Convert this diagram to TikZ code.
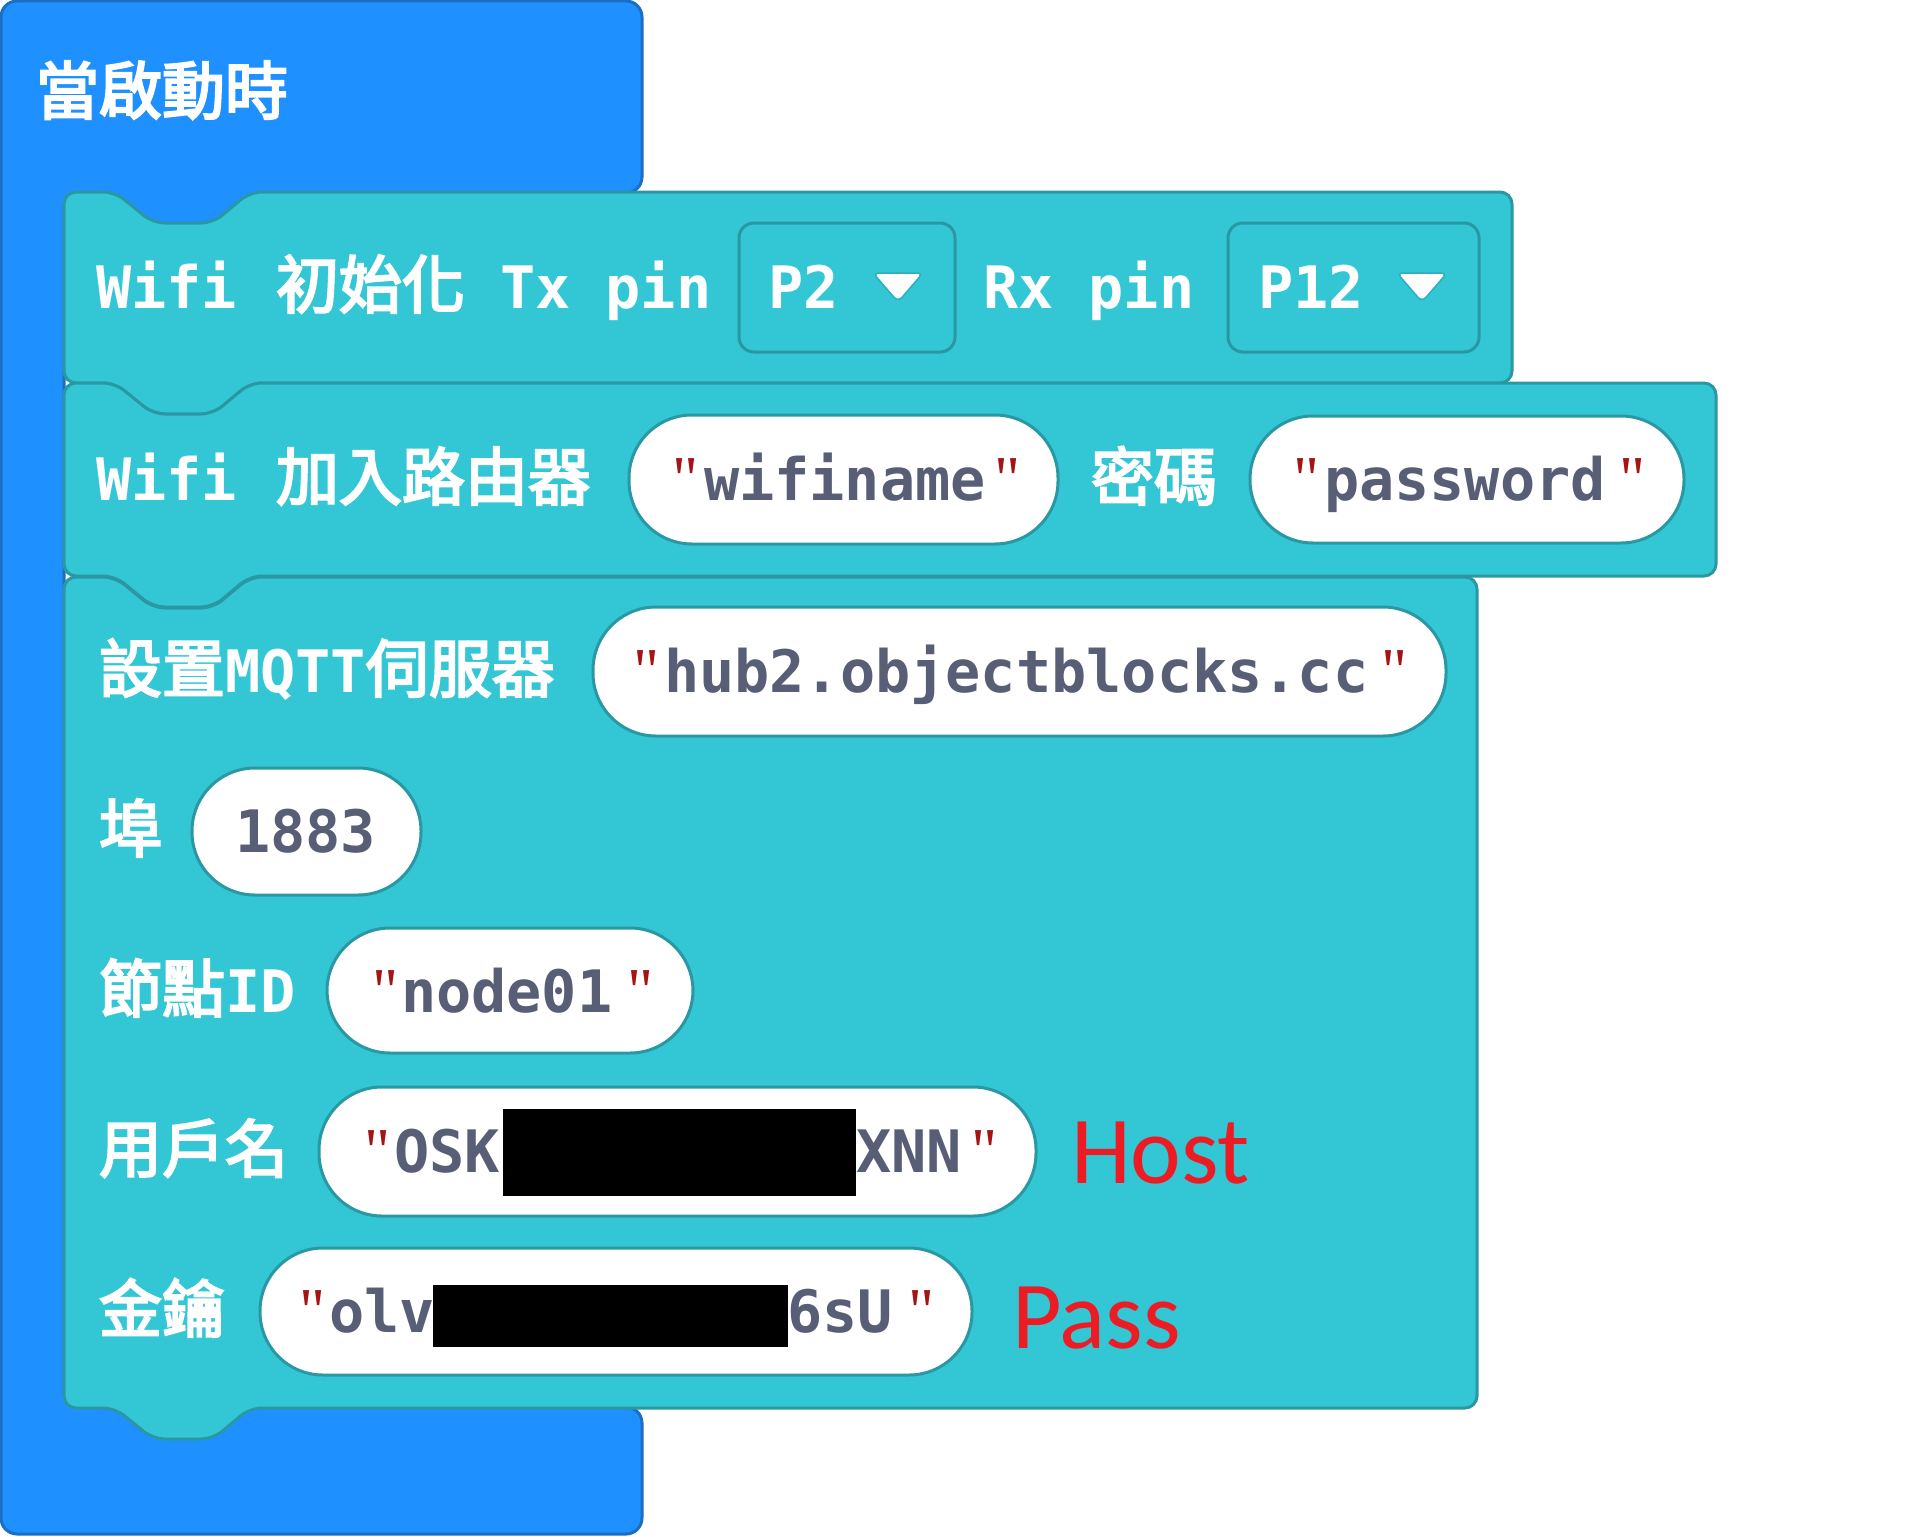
\documentclass[tikz,border=0pt]{standalone}
\usepackage{fontspec}
\newfontfamily\cjkf{Noto Sans CJK TC}[FakeBold=3.5]
\newfontfamily\monof{DejaVu Sans Mono}
\newfontfamily\quotef{Liberation Serif}
\newfontfamily\notef{Carlito}
\definecolor{blueF}{HTML}{1E90FF}
\definecolor{blueB}{HTML}{1B6EC2}
\definecolor{cyanF}{HTML}{33C6D4}
\definecolor{cyanB}{HTML}{2A98A3}
\definecolor{txtgrey}{HTML}{575E75}
\definecolor{qred}{HTML}{A31515}
\definecolor{noteRed}{HTML}{ED1C24}
\definecolor{arrowB}{HTML}{2AB0BC}
\newcommand\cjtext[1]{{\cjkf\mdseries\fontsize{63}{70}\selectfont #1}}
\newcommand\mkblock[4]{%
  \draw[blockst] ({#1},{(#2+#4)/2}) -- ({#1},{#2}) -- ({#1+51},{#2}) -- ({#1+89},{#2+31}) -- ({#1+149},{#2+31}) -- ({#1+186},{#2}) -- ({#3},{#2}) -- ({#3},{#4}) -- ({#1+186},{#4}) -- ({#1+149},{#4+31}) -- ({#1+89},{#4+31}) -- ({#1+51},{#4}) -- ({#1},{#4}) -- cycle;}
\tikzset{
  blockst/.style={fill=cyanF, draw=cyanB, line width=3pt, line join=round, rounded corners=12pt},
  hatst/.style={fill=blueF, draw=blueB, line width=3pt, rounded corners=16pt},
  pill/.style={fill=white, draw=cyanB, line width=3pt, rounded corners=63pt},
  ddbox/.style={fill=cyanF, draw=cyanB, line width=3pt, rounded corners=15pt},
  ddarrow/.style={fill=white, draw=arrowB, line width=1.5pt, rounded corners=6pt},
  lbl/.style={anchor=base west, inner sep=0pt, outer sep=0pt, text=white, font=\monof\bfseries\fontsize{58.5}{70}\selectfont},
  val/.style={lbl, text=txtgrey},
  qt/.style={anchor=base west, inner sep=0pt, outer sep=0pt, text=qred, font=\quotef\fontsize{64}{70}\selectfont},
  note/.style={anchor=base west, inner sep=0pt, outer sep=0pt, text=noteRed, font=\notef\fontsize{96}{100}\selectfont},
  redact/.style={fill=black, draw=none},
}
\begin{document}
\begin{tikzpicture}[x=1pt,y=-1pt]
\useasboundingbox (0,0) rectangle (1924,1536);
\fill[white] (0,0) rectangle (1924,1536);
% hat / C block
\draw[hatst] (1,700) -- (1,1) -- (642,1) -- (642,193) -- (64,193) -- (64,1407) -- (642,1407) -- (642,1534) -- (1,1534) -- cycle;
\fill[blueF] (100,182) rectangle (270,232);
\node[lbl] (hat) at (36,114) {\cjtext{當啟動時}};
% blocks
\mkblock{64}{192}{1512}{383}
\mkblock{64}{383}{1716}{576}
\mkblock{64}{577}{1477}{1408}
% block 1
\node[lbl] (w1) at (96,308) {Wifi};
\node[lbl] (init) at (276,308) {\cjtext{初始化}};
\node[lbl] (tx) at (500,308) {Tx pin};
\draw[ddbox] (739,223) rectangle (955,352);
\node[lbl] (p2) at (768,308) {P2};
\draw[ddarrow] (873,273) -- (923,273) -- (898,302) -- cycle;
\node[lbl] (rx) at (983,308) {Rx pin};
\draw[ddbox] (1228,223) rectangle (1479,352);
\node[lbl] (p12) at (1258,308) {P12};
\draw[ddarrow] (1397,273) -- (1447,273) -- (1422,302) -- cycle;
% block 2
\node[lbl] (w2) at (96,500) {Wifi};
\node[lbl] (join) at (276,500) {\cjtext{加入路由器}};
\draw[pill] (629,415) rectangle (1058,544);
\node[qt] (q1a) at (672,500) {"};
\node[val] (ssid) at (704,500) {wifiname};
\node[qt] (q1b) at (994,500) {"};
\node[lbl] (pwlbl) at (1091,500) {\cjtext{密碼}};
\draw[pill] (1250,416) rectangle (1684,543);
\node[qt] (q2a) at (1293,500) {"};
\node[val] (pw) at (1324,500) {password};
\node[qt] (q2b) at (1619,500) {"};
% block 3
\node[lbl] (mqtt) at (99,692) {\cjtext{設置}MQTT\cjtext{伺服器}};
\draw[pill] (593,607) rectangle (1446,736);
\node[qt] (q3a) at (633,692) {"};
\node[val] (host) at (664,692) {hub2.objectblocks.cc};
\node[qt] (q3b) at (1381,692) {"};
\node[lbl] (portlbl) at (99,852) {\cjtext{埠}};
\draw[pill] (192,768) rectangle (421,895);
\node[val] (port) at (235,852) {1883};
\node[lbl] (idlbl) at (99,1012) {\cjtext{節點}ID};
\draw[pill] (327,928) rectangle (693,1053);
\node[qt] (q4a) at (372,1012) {"};
\node[val] (nid) at (401,1012) {node01};
\node[qt] (q4b) at (627,1012) {"};
\node[lbl] (userlbl) at (99,1172) {\cjtext{用戶名}};
\draw[pill] (319,1087) rectangle (1036,1216);
\node[qt] (q5a) at (364,1172) {"};
\node[val] (u1) at (394,1172) {OSK};
\node[val] (u2) at (856,1172) {XNN};
\node[qt] (q5b) at (971,1172) {"};
\fill[redact] (503,1109) rectangle (856,1196);
\node[note] (hostnote) at (1071,1183) {Host};
\node[lbl] (keylbl) at (99,1332) {\cjtext{金鑰}};
\draw[pill] (260,1248) rectangle (972,1375);
\node[qt] (q6a) at (299,1332) {"};
\node[val] (k1) at (329,1332) {olv};
\node[val] (k2) at (787,1332) {6sU};
\node[qt] (q6b) at (908,1332) {"};
\fill[redact] (433,1285) rectangle (788,1347);
\node[note] (passnote) at (1012,1348) {Pass};
\end{tikzpicture}
\end{document}
